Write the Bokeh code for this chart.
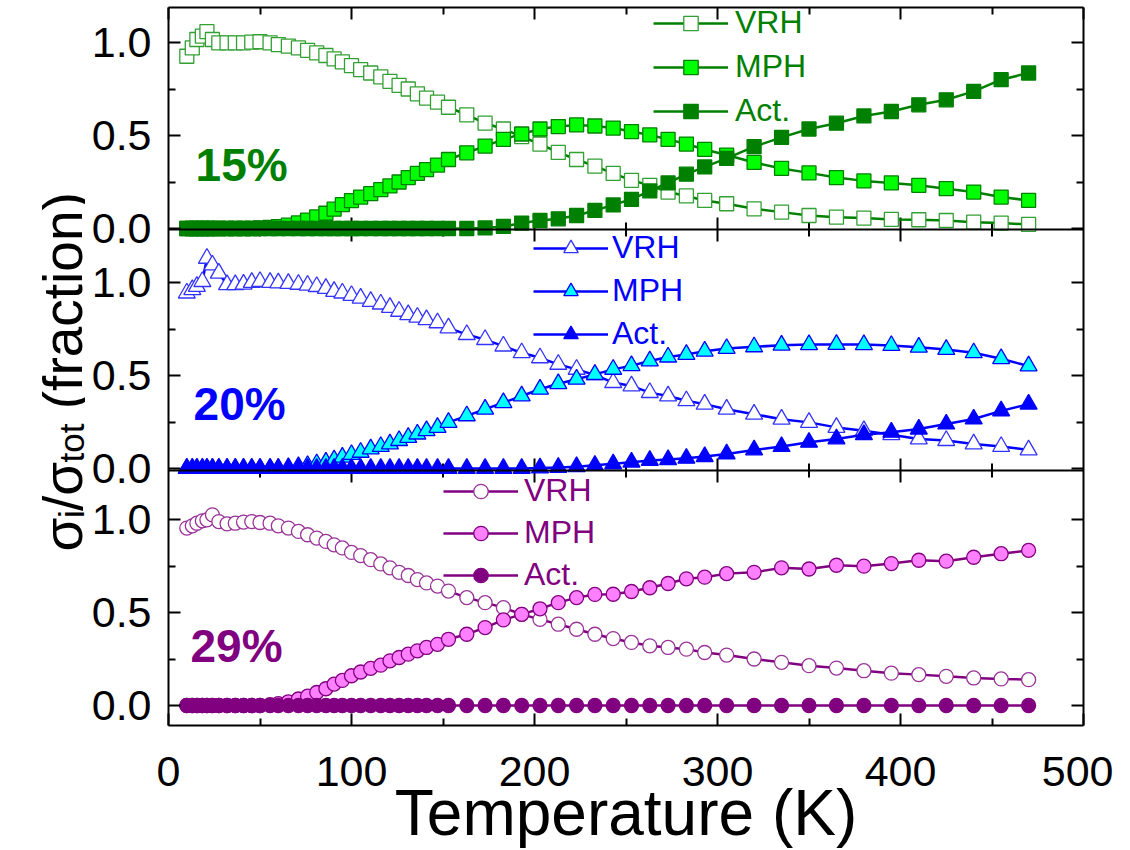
import math
from bokeh.plotting import figure
from bokeh.models import (Range1d, LinearAxis, FixedTicker, Legend, LegendItem,
                          Label, Span)
from bokeh.layouts import row
from bokeh.embed import file_html
from bokeh.resources import INLINE
from bokeh.core.properties import value

# ---------------- data ----------------
temperature = [10, 13, 15.5, 18.5, 21, 24, 27.5, 32, 36.5, 41, 45.5, 50, 55.5, 60,
               65.5, 71, 76, 81, 86, 90.5, 95, 100, 105, 110.5, 116, 121, 126, 131,
               136, 141, 147, 153, 163, 173, 183, 193, 203, 213, 223, 233, 243, 253,
               263, 273, 283, 293, 305, 320, 335, 350, 365, 380, 395, 410, 425, 440,
               455, 470]

vrh_15 = [0.926, 0.971, 1.016, 1.034, 1.058, 1.016, 0.998, 0.998, 0.998, 0.998,
          1.002, 1.004, 0.998, 0.989, 0.980, 0.971, 0.958, 0.944, 0.930, 0.912,
          0.896, 0.876, 0.854, 0.836, 0.815, 0.791, 0.769, 0.750, 0.724, 0.701,
          0.679, 0.652, 0.611, 0.566, 0.535, 0.494, 0.454, 0.409, 0.371, 0.335,
          0.296, 0.259, 0.232, 0.196, 0.175, 0.151, 0.133, 0.106, 0.088, 0.070,
          0.061, 0.056, 0.049, 0.047, 0.043, 0.034, 0.029, 0.022]
mph_15 = [0, 0, 0, 0, 0, 0, 0, 0, 0, 0, 0, 0.003, 0.006, 0.010, 0.018, 0.030,
          0.045, 0.062, 0.082, 0.104, 0.128, 0.150, 0.169, 0.187, 0.209, 0.229,
          0.250, 0.274, 0.296, 0.317, 0.341, 0.371, 0.407, 0.443, 0.479, 0.508,
          0.535, 0.548, 0.557, 0.551, 0.540, 0.521, 0.503, 0.479, 0.454, 0.425,
          0.395, 0.355, 0.323, 0.299, 0.274, 0.256, 0.245, 0.232, 0.214, 0.196,
          0.169, 0.151]
act_15 = [0, 0, 0, 0, 0, 0, 0, 0, 0, 0, 0, 0, 0, 0, 0, 0, 0, 0, 0, 0, 0, 0, 0,
          0, 0, 0, 0, 0, 0, 0, 0, 0, 0, 0.003, 0.011, 0.029, 0.043, 0.052, 0.070,
          0.097, 0.127, 0.157, 0.202, 0.245, 0.292, 0.331, 0.377, 0.440, 0.490,
          0.535, 0.566, 0.605, 0.629, 0.665, 0.692, 0.737, 0.800, 0.836]

vrh_20 = [0.943, 0.961, 0.979, 1.005, 1.130, 1.094, 1.050, 0.988, 0.988, 0.991,
          1.000, 1.005, 1.000, 0.998, 0.995, 0.990, 0.985, 0.978, 0.968, 0.952,
          0.943, 0.930, 0.916, 0.898, 0.884, 0.866, 0.845, 0.827, 0.813, 0.800,
          0.783, 0.756, 0.720, 0.693, 0.658, 0.622, 0.595, 0.560, 0.533, 0.503,
          0.462, 0.444, 0.408, 0.390, 0.364, 0.346, 0.319, 0.292, 0.265, 0.248,
          0.221, 0.203, 0.182, 0.159, 0.150, 0.132, 0.118, 0.100]
mph_20 = [0, 0, 0, 0, 0, 0, 0, 0, 0, 0, 0, 0, 0, 0, 0.005, 0.010, 0.016, 0.025,
          0.034, 0.046, 0.061, 0.075, 0.087, 0.105, 0.118, 0.132, 0.150, 0.167,
          0.185, 0.203, 0.221, 0.248, 0.283, 0.319, 0.354, 0.390, 0.426, 0.456,
          0.480, 0.506, 0.533, 0.553, 0.578, 0.599, 0.613, 0.631, 0.645, 0.654,
          0.663, 0.666, 0.667, 0.666, 0.661, 0.652, 0.640, 0.622, 0.590, 0.551]
act_20 = [0, 0, 0, 0, 0, 0, 0, 0, 0, 0, 0, 0, 0, 0, 0, 0, 0, 0, 0, 0, 0, 0, 0,
          0, 0, 0, 0, 0, 0, 0, 0, 0, 0, 0, 0, 0, 0.003, 0.006, 0.010, 0.017,
          0.025, 0.034, 0.043, 0.048, 0.055, 0.064, 0.078, 0.100, 0.118, 0.141,
          0.159, 0.182, 0.195, 0.212, 0.239, 0.266, 0.310, 0.346]

vrh_29 = [0.954, 0.966, 0.980, 0.993, 0.998, 1.025, 0.989, 0.977, 0.980, 0.986,
          0.989, 0.984, 0.980, 0.966, 0.954, 0.936, 0.918, 0.900, 0.882, 0.864,
          0.847, 0.823, 0.806, 0.784, 0.761, 0.740, 0.716, 0.699, 0.677, 0.659,
          0.642, 0.615, 0.580, 0.553, 0.526, 0.490, 0.463, 0.437, 0.410, 0.383,
          0.360, 0.339, 0.321, 0.312, 0.303, 0.285, 0.271, 0.250, 0.232, 0.214,
          0.201, 0.187, 0.174, 0.166, 0.157, 0.148, 0.143, 0.139]
mph_29 = [0, 0, 0, 0, 0, 0, 0, 0, 0, 0, 0, 0, 0.004, 0.010, 0.020, 0.035, 0.050,
          0.070, 0.090, 0.115, 0.135, 0.160, 0.180, 0.200, 0.217, 0.240, 0.258,
          0.276, 0.294, 0.312, 0.329, 0.356, 0.383, 0.419, 0.460, 0.490, 0.520,
          0.553, 0.580, 0.597, 0.598, 0.613, 0.633, 0.656, 0.681, 0.690, 0.709,
          0.716, 0.740, 0.734, 0.754, 0.749, 0.763, 0.781, 0.776, 0.797, 0.816,
          0.834]
act_29 = [0, 0, 0, 0, 0, 0, 0, 0, 0, 0, 0, 0, 0, 0, 0, 0, 0, 0, 0, 0, 0, 0, 0,
          0, 0, 0, 0, 0, 0, 0, 0, 0, 0, 0, 0, 0, 0, 0, 0, 0, 0, 0, 0, 0, 0, 0,
          0, 0, 0, 0, 0, 0, 0, 0, 0, 0, 0, 0]

series_names = ["VRH", "MPH", "Act."]
panel_labels = ["15%", "20%", "29%"]
x_major_ticks = [0, 100, 200, 300, 400, 500]
x_minor_ticks = [50, 150, 250, 350, 450]
y_major_ticks = [0.0, 0.5, 1.0]
y_major_labels = ["0.0", "0.5", "1.0"]
y_minor_ticks = [0.25, 0.75]
x_label = "Temperature (K)"
# y label pieces: (text, is_subscript, gap before it in em of the main size)
y_label_parts = [("σ", False, 0.0), ("i", True, 0.0), ("/σ", False, 0.0),
                 ("tot", True, 0.0), ("(fraction)", False, 0.278)]

# ---------------- layout (pixels) ----------------
FONT = "Liberation Sans"
FRAME_W = 915
FRAME_H = 718
FRAME_TOP = 7
LEFT_W = 85
BORDER_L = 83
PX_PER_UNIT = 186
panel_zero_px = [497, 257, 20]      # height of each panel's 0 above the frame bottom
boundaries_px = [496, 255]          # panel separators above the frame bottom
TICK_MAJOR = 12
TICK_MINOR = 7

p = figure(frame_width=FRAME_W, frame_height=FRAME_H,
           x_range=Range1d(0, 500), y_range=Range1d(0, FRAME_H),
           output_backend="svg", toolbar_location=None,
           min_border_left=BORDER_L, min_border_right=30,
           min_border_top=FRAME_TOP, min_border_bottom=0)
p.xgrid.visible = False
p.ygrid.visible = False
p.outline_line_color = None
p.background_fill_color = "white"
p.border_fill_color = "white"

for k, z in enumerate(panel_zero_px):
    p.extra_y_ranges["p%d" % k] = Range1d(-z / PX_PER_UNIT, (FRAME_H - z) / PX_PER_UNIT)

# global tick positions of the stacked y axes
g_major, g_minor, overrides = [], [], {}
for z in panel_zero_px:
    for v, lab in zip(y_major_ticks, y_major_labels):
        g = int(round(z + v * PX_PER_UNIT))
        g_major.append(g)
        overrides[g] = lab
    for v in y_minor_ticks:
        g_minor.append(z + v * PX_PER_UNIT)


def style_axis(ax, ticks, minor, show_labels, size="43px"):
    ax.ticker = FixedTicker(ticks=ticks, minor_ticks=minor)
    ax.axis_line_width = 2
    ax.axis_line_color = "black"
    ax.major_tick_in = TICK_MAJOR
    ax.major_tick_out = 0
    ax.minor_tick_in = TICK_MINOR
    ax.minor_tick_out = 0
    ax.major_tick_line_width = 2
    ax.minor_tick_line_width = 2
    ax.major_tick_line_color = "black"
    ax.minor_tick_line_color = "black"
    if show_labels:
        ax.major_label_text_font = FONT
        ax.major_label_text_font_size = size
        ax.major_label_text_color = "black"
    else:
        ax.major_label_text_font_size = "1px"
        ax.major_label_text_color = None
        ax.major_label_standoff = 0


top_ax = LinearAxis()
right_ax = LinearAxis()
p.add_layout(top_ax, "above")
p.add_layout(right_ax, "right")
bottom_ax = p.below[0]
left_ax = p.left[0]
style_axis(bottom_ax, x_major_ticks, x_minor_ticks, True)
style_axis(top_ax, x_major_ticks, x_minor_ticks, False)
style_axis(left_ax, g_major, g_minor, True)
style_axis(right_ax, g_major, g_minor, False)
left_ax.major_label_overrides = overrides
left_ax.major_label_standoff = 17
bottom_ax.major_label_standoff = 31
bottom_ax.axis_label = x_label
bottom_ax.axis_label_text_font = FONT
bottom_ax.axis_label_text_font_size = "64px"
bottom_ax.axis_label_text_font_style = "normal"
bottom_ax.axis_label_text_color = "black"
bottom_ax.axis_label_standoff = -12

# panel separators with ticks on both sides
for b in boundaries_px:
    p.add_layout(Span(location=b, dimension="width", line_color="black", line_width=2))
sx, sy0, sy1 = [], [], []
for b in boundaries_px:
    for t in x_major_ticks[1:-1]:
        sx.append(t); sy0.append(b - TICK_MAJOR); sy1.append(b + TICK_MAJOR)
    for t in x_minor_ticks:
        sx.append(t); sy0.append(b - TICK_MINOR); sy1.append(b + TICK_MINOR)
p.segment(x0=sx, y0=sy0, x1=sx, y1=sy1, line_color="black", line_width=2)

panels_cfg = [
    dict(data=[vrh_15, mph_15, act_15], marker="square", size=14, line="#008000",
         fills=["white", "#00ff00", "#008000"], edges=["#33a033", "#008000", "#008000"],
         leg=(485, 596, 7, 7), lab=(14.8, 0.34)),
    dict(data=[vrh_20, mph_20, act_20], marker="triangle", size=17, line="#0000ff",
         fills=["white", "#00ffff", "#0000ff"], edges=["#3333ff", "#0000ff", "#0000ff"],
         leg=(365, 373, 4, 6), lab=(13.7, 0.348)),
    dict(data=[vrh_29, mph_29, act_29], marker="circle", size=14, line="#800080",
         fills=["white", "#ff80ff", "#800080"], edges=["#993399", "#800080", "#800080"],
         leg=(275, 132, 6, 5), lab=(12.0, 0.32)),
]

for k, cfg in enumerate(panels_cfg):
    rn = "p%d" % k
    items = []
    for name, ys, fc, ec in zip(series_names, cfg["data"], cfg["fills"], cfg["edges"]):
        ln = p.line(temperature, ys, line_color=cfg["line"], line_width=2.5, y_range_name=rn)
        sc = p.scatter(temperature, ys, marker=cfg["marker"], size=cfg["size"],
                       fill_color=fc, line_color=ec, line_width=1.3, y_range_name=rn)
        items.append(LegendItem(label=name, renderers=[ln, sc]))
    lx, ly, stand, spc = cfg["leg"]
    p.add_layout(Legend(items=items, location=(lx, ly), orientation="vertical",
                        glyph_width=75, glyph_height=36, label_height=36, spacing=spc,
                        padding=0, margin=0, border_line_color=None,
                        background_fill_alpha=0, label_text_font=FONT,
                        label_text_font_size="32px", label_standoff=stand,
                        label_text_color=cfg["line"]))
    p.add_layout(Label(x=cfg["lab"][0], y=cfg["lab"][1], y_range_name=rn,
                       text=panel_labels[k], text_font=FONT, text_font_style="bold",
                       text_font_size="46px", text_color=cfg["line"],
                       text_align="left", text_baseline="middle"))

# ---------------- rotated y-axis title with real subscripts ----------------
# The row aligns this figure's frame with the main frame, so its y range is
# expressed directly in page pixels (top of frame = FRAME_TOP).
TOTAL_H = 846
MAIN_PX, SUB_PX = 55, 35
ADV = {"σ": 0.602, "i": 0.222, "/": 0.278, "t": 0.278, "o": 0.556, " ": 0.278,
       "(": 0.333, ")": 0.333, "f": 0.278, "r": 0.333, "a": 0.556, "c": 0.5, "n": 0.556}
pieces = []
pos = 0.0
for t, sub, gap in y_label_parts:
    pos += gap * MAIN_PX
    w = sum(ADV[c] for c in t) * (SUB_PX if sub else MAIN_PX)
    pieces.append((t, sub, pos + w / 2))
    pos += w
total_len = pos
center_page_y = 374
bottom_page_y = center_page_y + total_len / 2
base_x = 62
lab_fig = figure(width=LEFT_W, height=TOTAL_H, x_range=Range1d(0, LEFT_W),
                 y_range=Range1d(FRAME_TOP + FRAME_H, FRAME_TOP),
                 output_backend="svg", toolbar_location=None, min_border=0,
                 x_axis_type=None, y_axis_type=None)
lab_fig.outline_line_color = None
lab_fig.xgrid.visible = False
lab_fig.ygrid.visible = False
for t, sub, c in pieces:
    lab_fig.text(x=[base_x + (9 if sub else 0)], y=[bottom_page_y - c], text=[t],
                 angle=math.pi / 2, text_align="center", text_baseline="alphabetic",
                 text_font=value(FONT),
                 text_font_size="%dpx" % (SUB_PX if sub else MAIN_PX),
                 text_color="black")

layout = row(lab_fig, p)
open("out.html", "w").write(file_html(layout, INLINE))
